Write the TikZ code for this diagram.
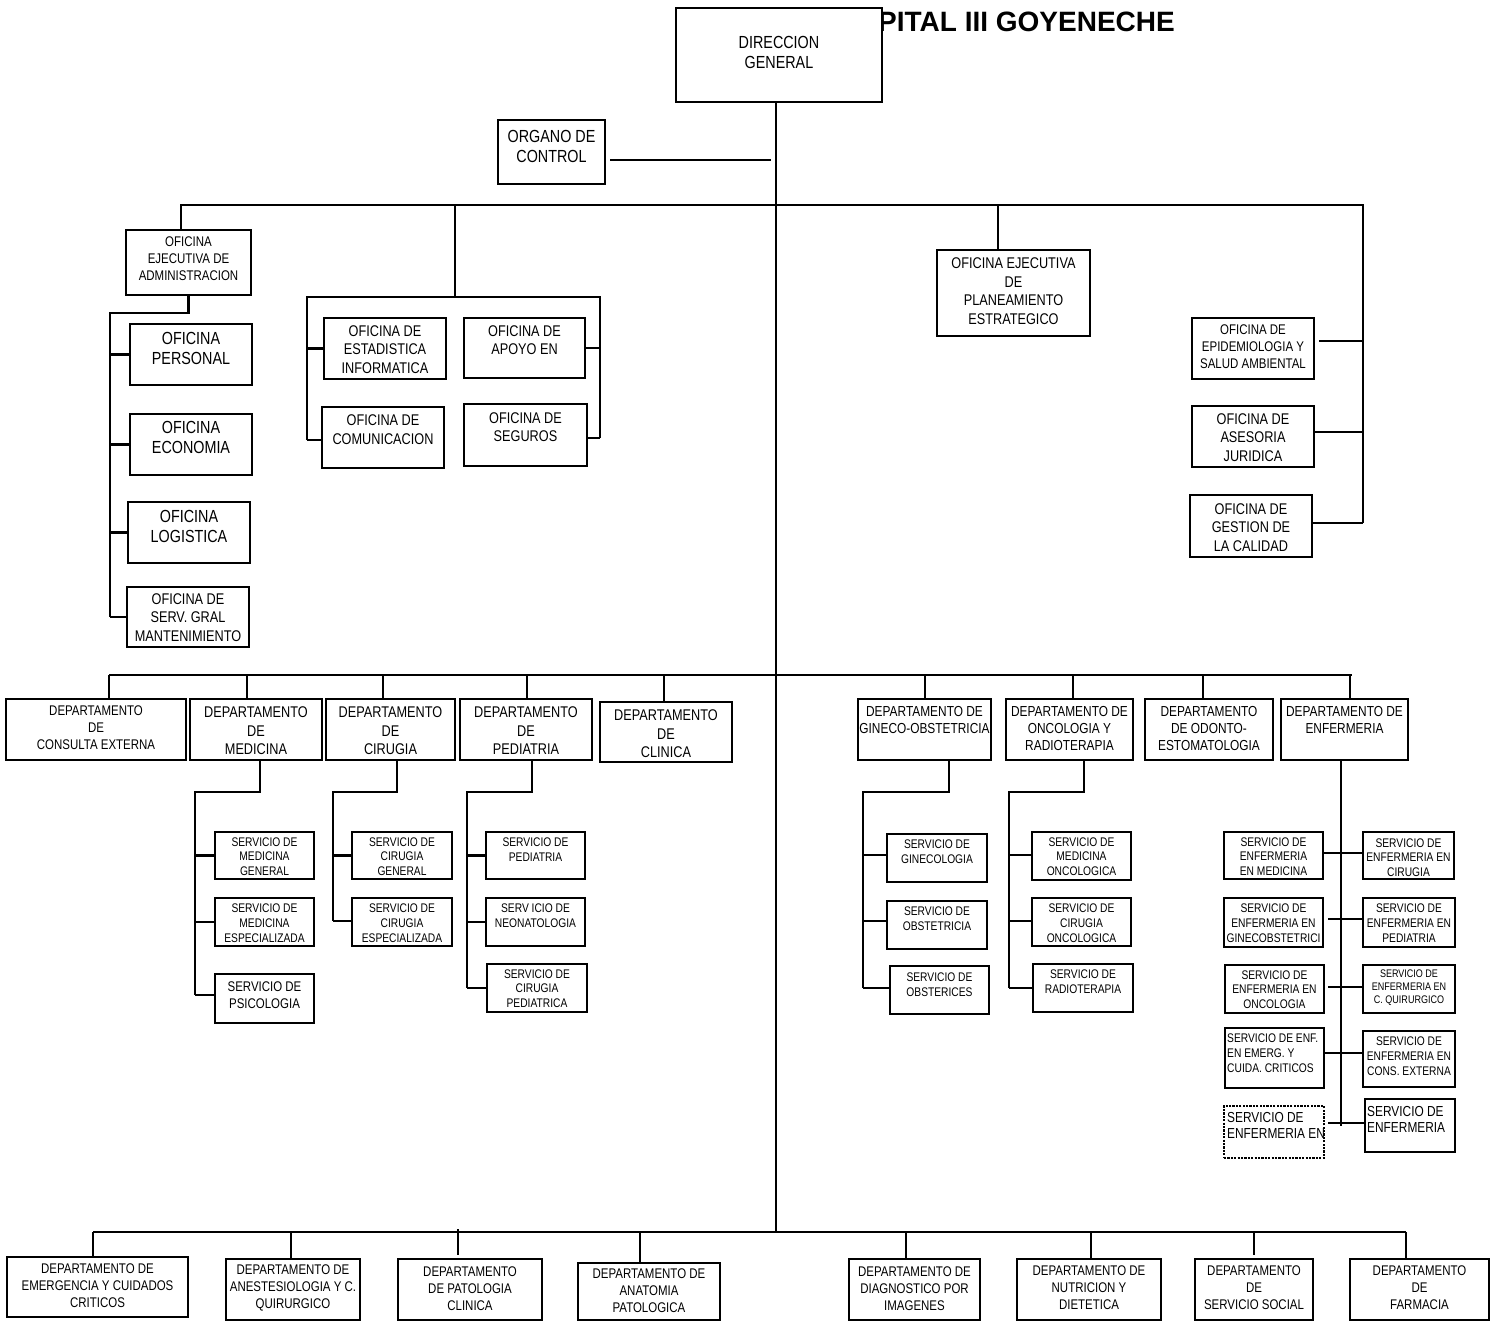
\documentclass[tikz,border=0pt]{standalone}
\usepackage{fontspec}
\setmainfont{Liberation Sans}[FakeStretch=0.82]
\newfontfamily\titlefont{Liberation Sans}
\usetikzlibrary{calc}
\tikzset{
  box/.style={draw, line width=2.5pt, fill=white, inner sep=0pt, outer sep=0pt},
  dotbox/.style={box, line width=2.2pt, dash pattern=on 2.2pt off 1.2pt},
  txt/.style={inner sep=0pt, align=center},
  conn/.style={line width=2.6pt},
  fA/.style={font=\fontsize{17.5}{20}\selectfont},
  fB/.style={font=\fontsize{15.5}{18.5}\selectfont},
  fC/.style={font=\fontsize{14}{17}\selectfont},
  fCC/.style={font=\fontsize{14.5}{17}\selectfont},
  fD/.style={font=\fontsize{12.5}{14.8}\selectfont},
  fE/.style={font=\fontsize{11}{13}\selectfont},
  fL/.style={font=\fontsize{14.5}{15.5}\selectfont},
}
% name, x1, y1, x2, y2, font style, text y, text
\newcommand\mybox[8]{%
  \node[box, minimum width={#4-#2}, minimum height={#5-#3}] (#1) at ({(#2+#4)/2},{(#3+#5)/2}) {};
  \node[txt, #6] (#1-t) at ({(#2+#4)/2}, #7) {#8};
}
% name, x1, y1, x2, y2, style, text x, text y, text (left aligned)
\newcommand\myboxL[9]{%
  \node[#6, minimum width={#4-#2}, minimum height={#5-#3}] (#1) at ({(#2+#4)/2},{(#3+#5)/2}) {};
  \node[txt, align=left, anchor=west, fL] (#1-t) at (#7, #8) {#9};
}
\begin{document}
\begin{tikzpicture}[x=1pt, y=-1pt]
\useasboundingbox (0,0) rectangle (1492,1323);

% title (partly hidden behind the direction box)
\node[font=\titlefont\bfseries\fontsize{28}{30}\selectfont, anchor=east, inner sep=0pt] (title) at (1175,22) {HOSPITAL III GOYENECHE};

% ---------- top ----------
\mybox{dg}{676}{8}{882}{102}{fA}{52.5}{DIRECCION\\GENERAL}
\mybox{org}{498}{120}{605}{184}{fA}{146}{ORGANO DE\\CONTROL}

\mybox{adm}{126}{230}{251}{295}{fC}{258.5}{OFICINA\\EJECUTIVA DE\\ADMINISTRACION}
\mybox{per}{130}{324}{252}{385}{fA}{348}{OFICINA\\PERSONAL}
\mybox{eco}{130}{414}{252}{475}{fA}{437}{OFICINA\\ECONOMIA}
\mybox{log}{128}{502}{250}{563}{fA}{526}{OFICINA\\LOGISTICA}
\mybox{srv}{127}{587}{249}{647}{fB}{617.5}{OFICINA DE\\SERV. GRAL\\MANTENIMIENTO}

\mybox{est}{324}{318}{446}{379}{fB}{349.5}{OFICINA DE\\ESTADISTICA\\INFORMATICA}
\mybox{apo}{464}{318}{585}{378}{fB}{340}{OFICINA DE\\APOYO EN}
\mybox{com}{322}{407}{444}{468}{fB}{429.5}{OFICINA DE\\COMUNICACION}
\mybox{seg}{464}{404}{587}{466}{fB}{427}{OFICINA DE\\SEGUROS}

\mybox{plan}{937}{250}{1090}{336}{fB}{291}{OFICINA EJECUTIVA\\DE\\PLANEAMIENTO\\ESTRATEGICO}
\mybox{epi}{1192}{318}{1314}{379}{fC}{347}{OFICINA DE\\EPIDEMIOLOGIA Y\\SALUD AMBIENTAL}
\mybox{ase}{1192}{406}{1314}{467}{fB}{437.5}{OFICINA DE\\ASESORIA\\JURIDICA}
\mybox{ges}{1190}{495}{1312}{557}{fB}{527.5}{OFICINA DE\\GESTION DE\\LA CALIDAD}

% ---------- departments ----------
\mybox{dce}{6}{699}{186}{760}{fC}{727.5}{DEPARTAMENTO\\DE\\CONSULTA EXTERNA}
\mybox{dmed}{190}{699}{322}{760}{fB}{731}{DEPARTAMENTO\\DE\\MEDICINA}
\mybox{dcir}{326}{699}{455}{760}{fB}{731}{DEPARTAMENTO\\DE\\CIRUGIA}
\mybox{dped}{460}{699}{592}{760}{fB}{731}{DEPARTAMENTO\\DE\\PEDIATRIA}
\mybox{dcli}{600}{702}{732}{762}{fB}{734}{DEPARTAMENTO\\DE\\CLINICA}
\mybox{dgin}{858}{699}{991}{760}{fCC}{720}{DEPARTAMENTO DE\\GINECO-OBSTETRICIA}
\mybox{donc}{1006}{699}{1133}{760}{fCC}{728.5}{DEPARTAMENTO DE\\ONCOLOGIA Y\\RADIOTERAPIA}
\mybox{dodo}{1145}{699}{1273}{760}{fCC}{728}{DEPARTAMENTO\\DE ODONTO-\\ESTOMATOLOGIA}
\mybox{denf}{1281}{699}{1408}{760}{fCC}{720}{DEPARTAMENTO DE\\ENFERMERIA}

% ---------- services ----------
\mybox{sm1}{215}{832}{314}{879}{fD}{856.5}{SERVICIO DE\\MEDICINA\\GENERAL}
\mybox{sm2}{215}{898}{314}{946}{fD}{923}{SERVICIO DE\\MEDICINA\\ESPECIALIZADA}
\mybox{sm3}{215}{974}{314}{1023}{fC}{995.5}{SERVICIO DE\\PSICOLOGIA}
\mybox{sc1}{352}{832}{452}{879}{fD}{856.5}{SERVICIO DE\\CIRUGIA\\GENERAL}
\mybox{sc2}{352}{898}{452}{946}{fD}{923}{SERVICIO DE\\CIRUGIA\\ESPECIALIZADA}
\mybox{sp1}{486}{832}{585}{879}{fD}{849.5}{SERVICIO DE\\PEDIATRIA}
\mybox{sp2}{486}{898}{585}{946}{fD}{915.5}{SERV ICIO DE\\NEONATOLOGIA}
\mybox{sp3}{487}{964}{587}{1012}{fD}{988.5}{SERVICIO DE\\CIRUGIA\\PEDIATRICA}

\mybox{sg1}{887}{834}{987}{882}{fD}{851.5}{SERVICIO DE\\GINECOLOGIA}
\mybox{sg2}{887}{901}{987}{949}{fD}{918.5}{SERVICIO DE\\OBSTETRICIA}
\mybox{sg3}{890}{966}{989}{1014}{fD}{984.5}{SERVICIO DE\\OBSTERICES}
\mybox{so1}{1032}{832}{1131}{880}{fD}{856.5}{SERVICIO DE\\MEDICINA\\ONCOLOGICA}
\mybox{so2}{1032}{898}{1131}{946}{fD}{923}{SERVICIO DE\\CIRUGIA\\ONCOLOGICA}
\mybox{so3}{1033}{964}{1133}{1012}{fD}{981.5}{SERVICIO DE\\RADIOTERAPIA}

\mybox{el1}{1224}{832}{1323}{879}{fD}{856.5}{SERVICIO DE\\ENFERMERIA\\EN MEDICINA}
\mybox{el2}{1224}{898}{1323}{947}{fD}{923}{SERVICIO DE\\ENFERMERIA EN\\GINECOBSTETRICI}
\mybox{el3}{1225}{965}{1324}{1013}{fD}{989.5}{SERVICIO DE\\ENFERMERIA EN\\ONCOLOGIA}
\node[box, minimum width=99, minimum height=60] (el4) at (1274.5,1058) {};
\node[txt, align=left, anchor=west, fD] (el4-t) at (1227,1053) {SERVICIO DE ENF.\\EN EMERG. Y\\CUIDA. CRITICOS};
\myboxL{el5}{1224}{1106}{1324}{1158}{dotbox}{1227}{1125.5}{SERVICIO DE\\ENFERMERIA EN}
\mybox{er1}{1363}{832}{1454}{879}{fD}{857.5}{SERVICIO DE\\ENFERMERIA EN\\CIRUGIA}
\mybox{er2}{1363}{898}{1455}{947}{fD}{923}{SERVICIO DE\\ENFERMERIA EN\\PEDIATRIA}
\mybox{er3}{1363}{965}{1455}{1013}{fE}{988}{SERVICIO DE\\ENFERMERIA EN\\C. QUIRURGICO}
\mybox{er4}{1363}{1031}{1455}{1087}{fD}{1056}{SERVICIO DE\\ENFERMERIA EN\\CONS. EXTERNA}
\myboxL{er5}{1365}{1099}{1455}{1152}{box}{1367}{1119.5}{SERVICIO DE\\ENFERMERIA}

% ---------- bottom departments ----------
\mybox{be}{7}{1257}{188}{1317}{fC}{1286}{DEPARTAMENTO DE\\EMERGENCIA Y CUIDADOS\\CRITICOS}
\mybox{ba}{226}{1259}{360}{1320}{fC}{1287.5}{DEPARTAMENTO DE\\ANESTESIOLOGIA Y C.\\QUIRURGICO}
\mybox{bp}{398}{1259}{542}{1320}{fC}{1288.5}{DEPARTAMENTO\\DE PATOLOGIA\\CLINICA}
\mybox{bn}{578}{1263}{720}{1320}{fC}{1291}{DEPARTAMENTO DE\\ANATOMIA\\PATOLOGICA}
\mybox{bd}{849}{1259}{980}{1320}{fC}{1288.5}{DEPARTAMENTO DE\\DIAGNOSTICO POR\\IMAGENES}
\mybox{bu}{1017}{1259}{1161}{1320}{fC}{1288}{DEPARTAMENTO DE\\NUTRICION Y\\DIETETICA}
\mybox{bs}{1195}{1259}{1313}{1320}{fC}{1288}{DEPARTAMENTO\\DE\\SERVICIO SOCIAL}
\mybox{bf}{1350}{1259}{1489}{1320}{fC}{1288}{DEPARTAMENTO\\DE\\FARMACIA}

% ---------- connectors ----------
\coordinate (trunk) at (776,1232);
\draw[conn] (trunk |- dg.south) -- (trunk);
\coordinate (orgc) at (771,160);
\draw[conn] ($(orgc -| org.east)+(5,0)$) -- (orgc);

\coordinate (b1L) at (181,205);
\coordinate (b1R) at (1363,205);
\coordinate (r1) at (1363,341);
\coordinate (r2) at (1363,432);
\coordinate (r3) at (1363,523);
\draw[conn] (b1L |- adm.north) -- (b1L) -- (b1R) -- (r3);
\draw[conn] ($(r1 -| epi.east)+(5,0)$) -- (r1);
\draw[conn] (r2 -| ase.east) -- (r2);
\draw[conn] (r3 -| ges.east) -- (r3);
\coordinate (pl) at (998,205);
\draw[conn] (pl) -- (pl |- plan.north);

\coordinate (aL) at (110,313);
\coordinate (aB) at (110,617);
\draw[conn] (adm.south) -- (adm.south |- aL) -- (aL) -- (aB);
\foreach \n in {per,eco,log,srv} \draw[conn] (aL |- \n.west) -- (\n.west);

\coordinate (mid) at (455,205);
\coordinate (midL) at (307,297);
\coordinate (midR) at (600,297);
\coordinate (mL2) at (307,440);
\coordinate (mR2) at (600,438);
\draw[conn] (mid) -- (mid |- midL);
\draw[conn] (mL2) -- (midL) -- (midR) -- (mR2);
\draw[conn] (midL |- est.west) -- (est.west);
\draw[conn] (mL2) -- (mL2 -| com.west);
\draw[conn] (midR |- apo.east) -- (apo.east);
\draw[conn] (mR2) -- (mR2 -| seg.east);

\coordinate (b2L) at (109,675);
\coordinate (b2R) at (1352,675);
\draw[conn] (b2L) -- (b2R);
\foreach \n/\x in {dce/109, dmed/247, dcir/383, dped/527, dcli/664, dgin/925, donc/1073, dodo/1203, denf/1350} {
  \coordinate (t-\n) at (\x,675);
  \draw[conn] (t-\n) -- (t-\n |- \n.north);
}

% medicina
\coordinate (m1) at (260,792); \coordinate (m2) at (195,792); \coordinate (m3) at (195,995);
\draw[conn] (m1 |- dmed.south) -- (m1) -- (m2) -- (m3);
\draw[conn] (m2 |- sm1.west) -- (sm1.west);
\draw[conn] (m2 |- sm2.west) -- (sm2.west);
\draw[conn] (m3) -- (m3 -| sm3.west);
% cirugia
\coordinate (c1) at (397,792); \coordinate (c2) at (333,792); \coordinate (c3) at (333,921);
\draw[conn] (c1 |- dcir.south) -- (c1) -- (c2) -- (c3);
\draw[conn] (c2 |- sc1.west) -- (sc1.west);
\draw[conn] (c3) -- (c3 -| sc2.west);
% pediatria
\coordinate (p1) at (532,792); \coordinate (p2) at (467,792); \coordinate (p3) at (467,988);
\draw[conn] (p1 |- dped.south) -- (p1) -- (p2) -- (p3);
\draw[conn] (p2 |- sp1.west) -- (sp1.west);
\draw[conn] (p2 |- sp2.west) -- (sp2.west);
\draw[conn] (p3) -- (p3 -| sp3.west);
% gineco
\coordinate (g1) at (949,792); \coordinate (g2) at (863,792); \coordinate (g3) at (863,988);
\coordinate (ga) at (863,855); \coordinate (gb) at (863,921);
\draw[conn] (g1 |- dgin.south) -- (g1) -- (g2) -- (g3);
\draw[conn] (ga) -- (ga -| sg1.west);
\draw[conn] (gb) -- (gb -| sg2.west);
\draw[conn] (g3) -- (g3 -| sg3.west);
% oncologia
\coordinate (o1) at (1084,792); \coordinate (o2) at (1009,792); \coordinate (o3) at (1009,988);
\coordinate (oa) at (1009,855); \coordinate (ob) at (1009,921);
\draw[conn] (o1 |- donc.south) -- (o1) -- (o2) -- (o3);
\draw[conn] (oa) -- (oa -| so1.west);
\draw[conn] (ob) -- (ob -| so2.west);
\draw[conn] (o3) -- (o3 -| so3.west);
% enfermeria
\coordinate (e0) at (1341,1126);
\draw[conn] (e0 |- denf.south) -- (e0);
\coordinate (e1) at (1341,853);
\coordinate (e2) at (1341,919);
\coordinate (e3) at (1341,987);
\coordinate (e4) at (1341,1053);
\coordinate (e5) at (1341,1123);
\draw[conn] (e1 -| el1.east) -- (e1 -| er1.west);
\draw[conn] ($(e2 -| el2.east)+(5,0)$) -- (e2 -| er2.west);
\draw[conn] ($(e3 -| el3.east)+(4,0)$) -- (e3 -| er3.west);
\draw[conn] (e4 -| el4.east) -- (e4 -| er4.west);
\draw[conn] ($(e5 -| el5.east)+(4,0)$) -- (e5 -| er5.west);

% bottom bus
\coordinate (b3L) at (93,1232);
\coordinate (b3R) at (1406,1232);
\draw[conn] (b3L) -- (b3R);
\foreach \n/\x in {be/93, ba/291, bn/640, bd/906, bu/1091, bf/1406} {
  \coordinate (t-\n) at (\x,1232);
  \draw[conn] (t-\n) -- (t-\n |- \n.north);
}
\coordinate (t-bp) at (458,1229);
\draw[conn] (t-bp) -- ($(t-bp |- bp.north)+(0,-4)$);
\coordinate (t-bs) at (1254,1232);
\draw[conn] (t-bs) -- ($(t-bs |- bs.north)+(0,-4)$);
\end{tikzpicture}
\end{document}
